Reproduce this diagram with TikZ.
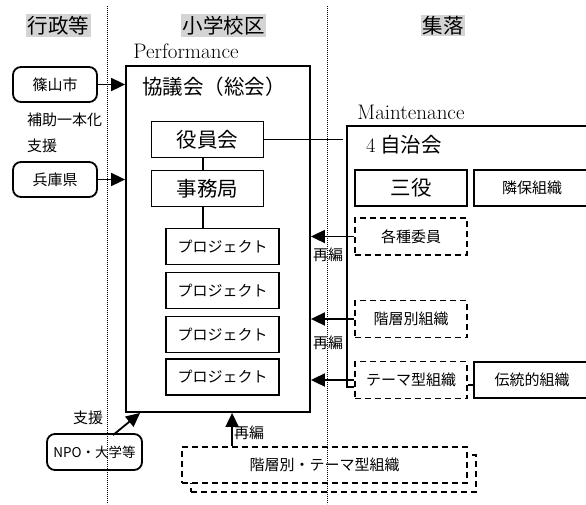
\documentclass[tikz,border=0pt]{standalone}
\usepackage{fontspec}
\newfontfamily\jp{Noto Sans CJK JP}
\usetikzlibrary{arrows.meta,calc}
\begin{document}
\begin{tikzpicture}[x=1pt,y=-1pt,
  big/.style={font=\jp\fontsize{20.5}{24}\selectfont},
  small/.style={font=\jp\fontsize{15}{17}\selectfont},
  latin/.style={font=\fontsize{21}{23}\selectfont, inner sep=0pt},
  hdr/.style={big, fill=black!17, inner sep=1.5pt},
  box/.style={draw, line width=1.8pt, minimum width=#1, minimum height=36pt, inner sep=0pt},
  box/.default=112pt,
  dbox/.style={draw, line width=1.8pt, dash pattern=on 6pt off 4pt, minimum width=112pt, minimum height=37pt, inner sep=0pt},
  rbox/.style={draw, line width=1.8pt, rounded corners=8pt, minimum width=84pt, minimum height=35pt, inner sep=0pt, small},
  conn/.style={line width=1.8pt},
  arr/.style={line width=1.8pt, -{Triangle[length=14pt,width=13pt]}},
  divider/.style={line width=1pt, dash pattern=on 0.9pt off 1.1pt}
]
\useasboundingbox (0,0) rectangle (586,504);

% headers
\node[hdr] (h1) at (58.5,25.5) {行政等};
\node[hdr] (h2) at (223.5,25.5) {小学校区};
\node[hdr] (h3) at (443,25.5) {集落};

% Performance block
\node[latin] (perf) at (186,51) {Performance};
\node[draw, line width=1.8pt, minimum width=184pt, minimum height=346pt, inner sep=0pt] (kyogi) at (218,239) {};
\node[big] (kyogit) at (214,87) {協議会（総会）};
\node[box, big] (yakuin) at (207.5,139.5) {役員会};
\node[box, big] (jimu) at (207.5,188.5) {事務局};
\node[box=113pt, small] (p1) at (222.5,246.5) {プロジェクト};
\node[box=113pt, small] (p2) at (222.5,290.5) {プロジェクト};
\node[box=113pt, small] (p3) at (222.5,334.5) {プロジェクト};
\node[box=113pt, small] (p4) at (222.5,377) {プロジェクト};
\coordinate (ya) at ($(yakuin.south)+(-4.5,0)$);
\coordinate (ja) at ($(jimu.south)+(-4.5,0)$);
\draw[conn] (ya) -- (ya |- jimu.north);
\draw[conn] (ja) -- (ja |- p1.north);
\draw[conn] (yakuin.east) -- ++(79,0);

% administration side
\node[rbox] (sasa) at (55,84.5) {篠山市};
\node[rbox] (hyogo) at (55,179.5) {兵庫県};
\node[rbox, minimum width=95pt, minimum height=36pt, font=\jp\fontsize{13.5}{16}\selectfont] (npo) at (94.5,452) {NPO・大学等};
\node[small, anchor=west, inner sep=0pt] (hojo) at (27,120) {補助一本化};
\node[small, anchor=west, inner sep=0pt] (shien1) at (27,146) {支援};
\node[small] (shien2) at (88,418) {支援};
\draw[arr] (sasa.east) -- (sasa.east -| kyogi.west);
\draw[arr] (hyogo.east) -- (hyogo.east -| kyogi.west);
\coordinate (na) at ($(npo.north)+(18.5,2)$);
\coordinate (nb) at ($(kyogi.south west)+(15,0)$);
\draw[arr] (na) -- (nb);

% Maintenance block
\node[latin] (maint) at (411,112) {Maintenance};
\node[big] (jichi) at (404,145) {{\rmfamily 4}\hspace{5pt}自治会};
\node[box, big] (sanyaku) at (411,188) {三役};
\node[box=116pt, small] (rinpo) at (532,188) {隣保組織};
\node[dbox, small] (kakushu) at (411,236.5) {各種委員};
\node[dbox, small] (kaiso) at (411,319) {階層別組織};
\node[dbox, small] (theme) at (411,380) {テーマ型組織};
\node[box=116pt, small] (dento) at (532,380) {伝統的組織};
\coordinate (mtr) at (595,126);
\coordinate (mtl) at (347,126);
\coordinate (mbl) at (347,387);
\draw[conn] (mtr) -- (mtl) -- (mbl) -- (mbl -| theme.west);
\draw[conn] ($(theme.east)+(0,5)$) -- ($(dento.west)+(0,5)$);
\draw[arr] (kakushu.west) -- (kakushu.west -| kyogi.east);
\draw[arr] (kaiso.west) -- (kaiso.west -| kyogi.east);
\draw[arr] (theme.west) -- (theme.west -| kyogi.east);
\node[small] (r1) at (328,255) {再編};
\node[small] (r2) at (328,343) {再編};

% bottom organisations
\node[dbox, minimum width=285pt, minimum height=37pt, fill=white] (ktshadow) at (333.5,473.5) {};
\node[dbox, minimum width=285pt, minimum height=36pt, fill=white, small] (kt) at (324.5,465) {階層別・テーマ型組織};
\coordinate (ka) at ($(kt.north west)+(51,0)$);
\draw[arr] (ka) -- (ka |- kyogi.south);
\node[small] (r3) at (249,433) {再編};

% dividers
\draw[divider] (107,6) coordinate (d1t) -- (107,504) coordinate (d1b);
\draw[divider] (327,6) coordinate (d2t) -- (327,504) coordinate (d2b);
\end{tikzpicture}
\end{document}
